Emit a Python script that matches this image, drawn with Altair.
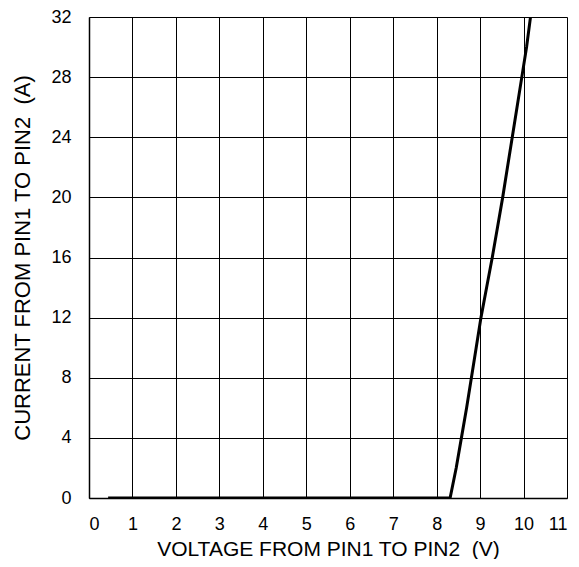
import altair as alt
import pandas as pd

voltage = [0.44, 8.31, 8.45, 8.57, 8.69, 8.80, 8.91, 9.02, 9.15, 9.28, 9.40, 9.52, 9.63, 9.74, 9.85, 9.96, 10.07, 10.16]
current = [0, 0, 2, 4, 6, 8, 10, 12, 14, 16, 18, 20, 22, 24, 26, 28, 30, 32]
x_ticks = list(range(0, 12))
y_ticks = [0, 4, 8, 12, 16, 20, 24, 28, 32]

df = pd.DataFrame({"v": voltage, "i": current, "order": list(range(len(voltage)))})

FONT = "Liberation Sans"

chart = alt.Chart(df).mark_line(color="black", strokeWidth=3, clip=True).encode(
    x=alt.X("v:Q",
            scale=alt.Scale(domain=[0, 11], nice=False, zero=False),
            axis=alt.Axis(values=x_ticks, title="VOLTAGE FROM PIN1 TO PIN2\u00a0 (V)",
                          ticks=False, labelPadding=17, titlePadding=5,
                          grid=True, gridColor="black", gridWidth=1, gridOpacity=1,
                          domainColor="black", domainWidth=1.5,
                          labelFontSize=18, titleFontSize=21, labelFont=FONT, titleFont=FONT,
                          labelColor="black", titleColor="black", titleFontWeight="normal")),
    y=alt.Y("i:Q",
            scale=alt.Scale(domain=[0, 32], nice=False, zero=False),
            axis=alt.Axis(values=y_ticks, title="CURRENT FROM PIN1 TO PIN2\u00a0 (A)",
                          ticks=False, labelPadding=18, titlePadding=16,
                          grid=True, gridColor="black", gridWidth=1, gridOpacity=1,
                          domainColor="black", domainWidth=1.5,
                          labelFontSize=18, titleFontSize=22, labelFont=FONT, titleFont=FONT,
                          labelColor="black", titleColor="black", titleFontWeight="normal")),
    order="order:Q",
).properties(
    width=478, height=481,
    autosize=alt.AutoSizeParams(type="none"),
    padding={"left": 81, "top": 9, "right": 4, "bottom": 61},
).configure_view(stroke="black", strokeWidth=1.5).configure(background="white")

chart.save("out.html", embed_options={"renderer": "svg", "actions": False})
